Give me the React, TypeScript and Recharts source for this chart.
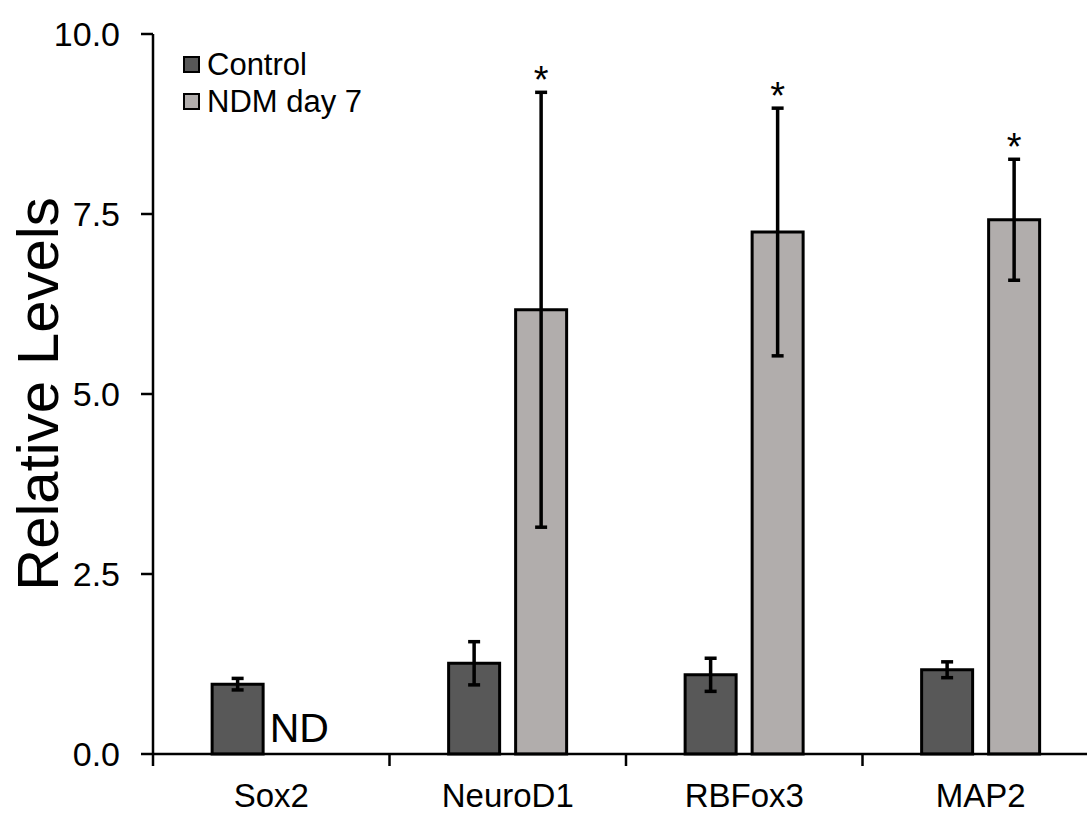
import React from "react";
import {
  BarChart,
  Bar,
  XAxis,
  YAxis,
  ErrorBar,
  Legend,
  LabelList,
  ReferenceDot,
} from "recharts";

const categories = ["Sox2", "NeuroD1", "RBFox3", "MAP2"];
const controlValues = [0.97, 1.26, 1.1, 1.17];
const controlErrors = [0.08, 0.3, 0.23, 0.11];
const ndmValues = [0, 6.17, 7.25, 7.42];
const ndmErrors = [0, 3.02, 1.72, 0.84];
const ndmMarks = ["ND", "*", "*", "*"];
const yTicks = [0, 2.5, 5, 7.5, 10];

const FONT = "'Liberation Sans', Arial, sans-serif";

const chartData = categories.map((name, i) => ({
  name,
  control: controlValues[i],
  controlErr: controlErrors[i],
  ndm: ndmValues[i],
  ndmErr: ndmErrors[i],
}));

// category labels in the middle, tick marks on the band edges
const CategoryTick = (props: any) => {
  const { x, y, payload, index, visibleTicksCount } = props;
  const half = payload?.offset ?? 118.25;
  const last = index === visibleTicksCount - 1;
  return (
    <g>
      <line x1={x - half} x2={x - half} y1={y} y2={y + 12} stroke="#000" strokeWidth={2.5} />
      {last && (
        <line x1={x + half} x2={x + half} y1={y} y2={y + 12} stroke="#000" strokeWidth={2.5} />
      )}
      <text x={x} y={y + 53} textAnchor="middle" fontSize={33} fontFamily={FONT} fill="#000">
        {payload.value}
      </text>
    </g>
  );
};

// asterisk just above the top whisker
const StarLabel = (props: any) => {
  const { x, y, width, height, value } = props;
  const i = categories.indexOf(value);
  if (i < 0 || ndmMarks[i] !== "*" || !ndmValues[i]) return null;
  const pxPerUnit = height / ndmValues[i];
  const errTop = y - ndmErrors[i] * pxPerUnit;
  return (
    <text x={x + width / 2} y={errTop + 1} textAnchor="middle" fontSize={38} fontFamily={FONT} fill="#000">
      *
    </text>
  );
};

const NdMark = (props: any) => {
  const { cx, cy } = props;
  if (cx == null) return null;
  return (
    <text x={cx + 28} y={cy - 12} textAnchor="middle" fontSize={41} fontFamily={FONT} fill="#000">
      {ndmMarks[0]}
    </text>
  );
};

const LegendBox = ({ payload }: any) => (
  <div style={{ fontFamily: FONT }}>
    {(payload || []).map((entry: any) => (
      <div
        key={entry.value}
        style={{ display: "flex", alignItems: "center", height: 37 }}
      >
        <span
          style={{
            width: 13,
            height: 13,
            border: "2.5px solid #000",
            background: entry.color,
            marginRight: 7,
            display: "inline-block",
          }}
        />
        <span style={{ fontSize: 31, lineHeight: "37px", color: "#000" }}>{entry.value}</span>
      </div>
    ))}
  </div>
);

const YLabel = (props: any) => {
  const { viewBox } = props;
  const cy = viewBox.y + viewBox.height / 2;
  return (
    <text
      transform={`translate(58, ${cy}) rotate(-90)`}
      textAnchor="middle"
      fontSize={58}
      fontFamily={FONT}
      fill="#000"
    >
      Relative Levels
    </text>
  );
};

export default function App() {
  return (
    <div
      style={{
        position: "absolute",
        left: 0,
        top: 0,
        width: 1087,
        height: 814,
        overflow: "hidden",
        background: "#fff",
      }}
    >
      <BarChart
        width={1110}
        height={814}
        data={chartData}
        margin={{ top: 34, right: 11, bottom: 0, left: 0 }}
        barCategoryGap="25%"
        barGap={16}
      >
        <XAxis
          dataKey="name"
          height={60}
          axisLine={{ stroke: "#000", strokeWidth: 2.5 }}
          tickLine={false}
          tickSize={0}
          tickMargin={0}
          tick={<CategoryTick />}
          interval={0}
        />
        <YAxis
          width={153}
          domain={[0, 10]}
          ticks={yTicks}
          tickFormatter={(v: number) => v.toFixed(1)}
          axisLine={{ stroke: "#000", strokeWidth: 2.5 }}
          tickLine={{ stroke: "#000", strokeWidth: 2.5 }}
          tickSize={12}
          tickMargin={21}
          tick={{ fill: "#000", fontSize: 34, fontFamily: FONT }}
          label={<YLabel />}
        />
        <Legend
          verticalAlign="middle"
          align="center"
          layout="horizontal"
          content={<LegendBox />}
          wrapperStyle={{ left: 183, top: 46, width: "auto", height: "auto" }}
        />
        <Bar
          dataKey="control"
          name="Control"
          fill="#585858"
          stroke="#000"
          strokeWidth={3}
          isAnimationActive={false}
        >
          <ErrorBar dataKey="controlErr" width={6} stroke="#000" strokeWidth={3.5} direction="y" />
        </Bar>
        <Bar
          dataKey="ndm"
          name="NDM day 7"
          fill="#b1adac"
          stroke="#000"
          strokeWidth={3}
          isAnimationActive={false}
        >
          <ErrorBar dataKey="ndmErr" width={6} stroke="#000" strokeWidth={3.5} direction="y" />
          <LabelList dataKey="name" content={<StarLabel />} />
        </Bar>
        <ReferenceDot x={categories[0]} y={0} r={0} shape={<NdMark />} />
      </BarChart>
    </div>
  );
}
